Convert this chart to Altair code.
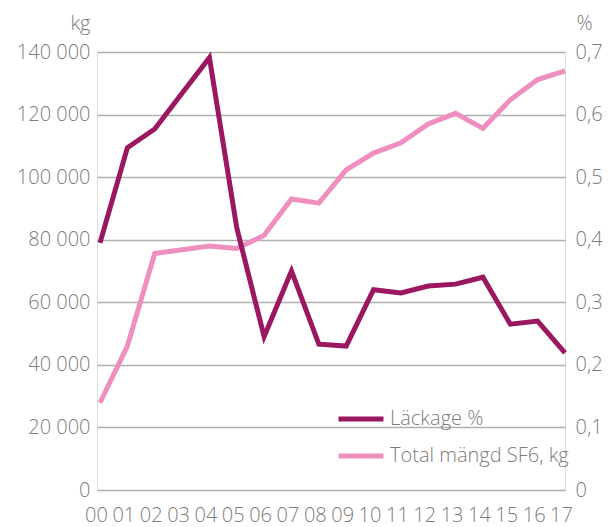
import altair as alt
import pandas as pd

years = list(range(0, 18))
leak_pct = [0.395, 0.547, 0.577, 0.634, 0.691, 0.419, 0.245, 0.350, 0.233, 0.230,
            0.320, 0.315, 0.326, 0.329, 0.340, 0.265, 0.270, 0.219]
total_kg = [27900, 46000, 75600, 76800, 78000, 77200, 81400, 93000, 91700, 102300,
            107700, 111000, 117000, 120400, 115600, 124700, 131200, 134000]

S_LEAK = "Läckage %"
S_TOTAL = "Total mängd SF6, kg"

df_total = pd.DataFrame({"year": years, "value": total_kg, "series": S_TOTAL})
df_leak = pd.DataFrame({"year": years, "value": leak_pct, "series": S_LEAK})

FONT = "Open Sans"
FS = 20
FW = 300
GREY = "#7c7c7c"
GRID = "#b0b0b0"

color = alt.Color(
    "series:N",
    scale=alt.Scale(domain=[S_LEAK, S_TOTAL], range=["#9b1760", "#ee8fbf"]),
    legend=alt.Legend(
        title=None,
        orient="none",
        legendX=239,
        legendY=342,
        symbolType="stroke",
        symbolSize=2025,
        symbolStrokeWidth=5,
        labelFontSize=FS,
        labelFont=FONT,
        labelFontWeight=FW,
        labelColor=GREY,
        labelOffset=4,
        labelLimit=400,
        rowPadding=2,
        padding=0,
    ),
)

x = alt.X(
    "year:Q",
    scale=alt.Scale(domain=[-0.11, 17], nice=False, zero=False),
    axis=alt.Axis(
        values=years,
        labelExpr="datum.value < 10 ? '0' + datum.value : '' + datum.value",
        grid=False, domain=False, ticks=False,
        labelFontSize=FS, labelFont=FONT, labelFontWeight=FW, labelColor=GREY,
        labelPadding=15, labelOffset=-4, title=None, labelOverlap=False,
        labelFlush=False,
    ),
)

total_line = alt.Chart(df_total).mark_line(strokeWidth=5, strokeJoin="miter").encode(
    x=x,
    y=alt.Y(
        "value:Q",
        scale=alt.Scale(domain=[0, 140000], nice=False),
        axis=alt.Axis(
            values=[0, 20000, 40000, 60000, 80000, 100000, 120000, 140000],
            labelExpr="replace(format(datum.value, ','), ',', ' ')",
            orient="left",
            grid=True, gridColor=GRID, gridWidth=1.5,
            domain=False, ticks=False,
            labelFontSize=FS, labelFont=FONT, labelFontWeight=FW, labelColor=GREY,
            labelPadding=7,
            title="kg", titleAngle=0, titleAlign="right", titleBaseline="alphabetic",
            titleX=-7, titleY=-23, titleFontSize=FS, titleFont=FONT,
            titleColor=GREY, titleFontWeight=FW,
        ),
    ),
    color=color,
)

leak_line = alt.Chart(df_leak).mark_line(strokeWidth=5, strokeJoin="miter").encode(
    x=x,
    y=alt.Y(
        "value:Q",
        scale=alt.Scale(domain=[0, 0.7], nice=False),
        axis=alt.Axis(
            values=[0, 0.1, 0.2, 0.3, 0.4, 0.5, 0.6, 0.7],
            labelExpr="datum.value == 0 ? '0' : replace(format(datum.value, '.1f'), '.', ',')",
            orient="right",
            grid=False, domain=False, ticks=False,
            labelFontSize=FS, labelFont=FONT, labelFontWeight=FW, labelColor=GREY,
            labelPadding=10,
            title="%", titleAngle=0, titleAlign="left", titleBaseline="alphabetic",
            titleX=11, titleY=-23, titleFontSize=FS, titleFont=FONT,
            titleColor=GREY, titleFontWeight=FW,
        ),
    ),
    color=color,
)

chart = (
    alt.layer(total_line, leak_line)
    .resolve_scale(y="independent")
    .properties(
        width=468,
        height=438,
        autosize=alt.AutoSizeParams(type="none"),
        padding={"left": 89, "top": 44, "right": 40, "bottom": 37},
    )
    .configure_view(stroke=None)
    .configure(background="white")
)

chart.save("out.html", embed_options={"renderer": "svg", "actions": False})
